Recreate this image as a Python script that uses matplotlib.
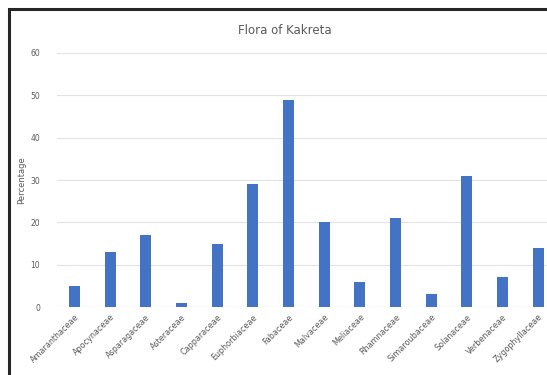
import matplotlib.pyplot as plt
from matplotlib.patches import Rectangle

families = ['Amaranthaceae', 'Apocynaceae', 'Asparagaceae', 'Asteraceae',
            'Capparaceae', 'Euphorbiaceae', 'Fabaceae', 'Malvaceae',
            'Meliaceae', 'Rhamnaceae', 'Simaroubaceae', 'Solanaceae',
            'Verbenaceae', 'Zygophyllaceae']
percentage = [5, 13, 17, 1, 15, 29, 49, 20, 6, 21, 3, 31, 7, 14]
yticks = [0, 10, 20, 30, 40, 50, 60]

fig = plt.figure(figsize=(5.47, 3.75), dpi=100)
ax = fig.add_axes([0.1035, 0.1813, 0.913, 0.6774])

x = range(len(families))
ax.bar(x, percentage, width=0.31, color='#4472C4', zorder=3)

ax.set_xlim(-0.5, len(families) - 0.5)
ax.set_ylim(0, 60)
ax.set_yticks(yticks)
ax.set_xticks(list(x))
ax.set_xticklabels(families, rotation=45, ha='right', rotation_mode='anchor',
                   fontsize=5.8, color='#595959')
ax.tick_params(axis='y', labelsize=5.5, labelcolor='#595959', length=0, pad=12)
ax.tick_params(axis='x', length=0, pad=4)
ax.grid(axis='y', color='#E3E3E3', linewidth=0.8, zorder=0)
for s in ax.spines.values():
    s.set_visible(False)
ax.axhline(0, color='#D9D9D9', linewidth=0.8, zorder=2)

ax.set_ylabel('Percentage', fontsize=6, color='#595959')
ax.yaxis.set_label_coords(-0.062, 0.5)
fig.text(285 / 547, 1 - 30 / 375, 'Flora of Kakreta', ha='center', va='center',
         fontsize=8.5, color='#595959')

# dark frame visible on the top and left of the cropped chart
fig.add_artist(Rectangle((9 / 547, -0.2), 1.2, 1 - 9 / 375 + 0.2,
                         transform=fig.transFigure, fill=False,
                         edgecolor='#262626', linewidth=2.2, clip_on=False))

fig.savefig('out.png', dpi=100)
